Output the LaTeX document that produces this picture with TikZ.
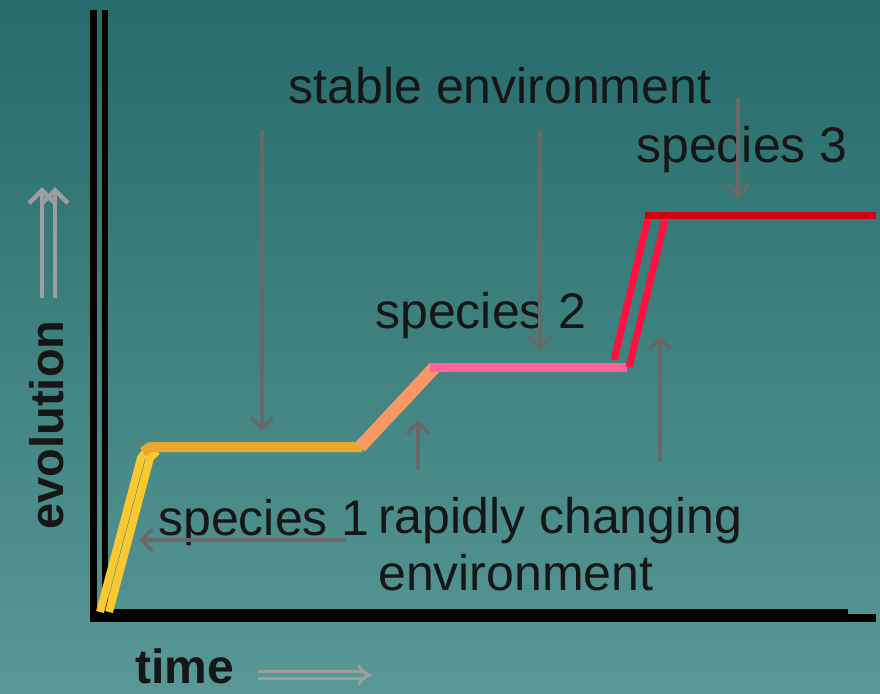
\documentclass[tikz,border=0pt]{standalone}
\usepackage{fontspec}
\setmainfont{Liberation Sans}
\usetikzlibrary{arrows.meta}
\definecolor{bgtop}{RGB}{38,108,106}
\definecolor{bgbot}{RGB}{88,152,150}
\definecolor{notegray}{RGB}{104,104,104}
\definecolor{axisgray}{RGB}{158,158,158}
\definecolor{inkdark}{RGB}{22,22,22}
\definecolor{sponeup}{RGB}{252,200,48}
\definecolor{sponeflat}{RGB}{232,168,48}
\definecolor{orangeup}{RGB}{250,152,100}
\definecolor{pinkflat}{RGB}{255,100,150}
\definecolor{redup}{RGB}{255,16,64}
\definecolor{redflat}{RGB}{208,0,16}
\begin{document}
\begin{tikzpicture}[x=1pt,y=1pt,yscale=-1,
    txt/.style={inner sep=0pt,text=inkdark,font=\fontsize{50}{56}\selectfont},
    note/.style={draw=notegray,line width=3.5pt,-{Straight Barb[length=11pt,width=22pt,line width=3.5pt]}},
    bigarrow/.style={draw=axisgray,line width=4.5pt,-{Straight Barb[length=13pt,width=26pt,line width=4.5pt]}},
    curve/.style={line width=#1,line cap=butt,line join=round}]
    % background
    \shade[top color=bgtop,bottom color=bgbot] (0,0) rectangle (880,693);
    
    % axes
    \draw[black,line width=7pt] (93,10) -- (93,621);
    \draw[black,line width=6pt] (105,10) -- (105,612);
    \draw[black,line width=13pt] (90,615) -- (848,615);
    \draw[black,line width=8pt] (840,618) -- (876,618);
    
    % species 1
    \draw[sponeup,curve=8pt] (100,612) -- (141,458) -- (148,449);
    \draw[sponeup,curve=8pt] (109,612) -- (150,458) -- (157,451);
    \draw[sponeflat,curve=10pt] (143,452) -- (150,447) -- (362,447);
    % species 2
    \draw[orangeup,curve=13pt] (360,447) -- (435,367);
    \draw[pinkflat,curve=9pt] (430,367) -- (627,367);
    % species 3
    \draw[redup,curve=7pt] (614,360) -- (648,218);
    \draw[redup,curve=7pt] (629,367) -- (665,220);
    \draw[redflat,curve=7pt] (645,215) -- (876,215);
    
    % Text Node
    \node[txt,anchor=base] (stable) at (500,103) {stable environment};
    % Text Node
    \node[txt,anchor=base] (sp3) at (742,162) {species 3};
    % Text Node
    \node[txt,anchor=base] (sp2) at (481,328) {species 2};
    % Text Node
    \node[txt,anchor=base] (sp1) at (264,535) {species 1};
    % Text Node
    \node[txt,anchor=base west] (rapid) at (378,533) {rapidly changing};
    % Text Node
    \node[txt,anchor=base west] (rapidenv) at (378,590) {environment};
    % Text Node
    \node[txt,anchor=base,font=\bfseries\fontsize{48}{54}\selectfont] (time) at (185,683) {time};
    % Text Node
    \node[txt,rotate=90,font=\bfseries\fontsize{47}{54}\selectfont] (evol) at (47,425) {evolution};
    
    % pointers
    \coordinate (stableA) at (262,130);
    \coordinate (flatone) at (262,431);
    \coordinate (stableB) at (540,130);
    \coordinate (flattwo) at (540,350);
    \coordinate (spthree) at (738,198);
    \coordinate (rapidA) at (418,470);
    \coordinate (rampone) at (418,420);
    \coordinate (rapidB) at (660,462);
    \coordinate (ramptwo) at (660,336);
    \coordinate (sponeA) at (346,540);
    \coordinate (sponeB) at (139,540);
    \draw[note] (stableA) -- (flatone);
    \draw[note] (stableB) -- (flattwo);
    \draw[note] (sp3.north -| spthree) ++(0,-28) -- (spthree);
    \draw[note] (rapidA) -- (rampone);
    \draw[note] (rapidB) -- (ramptwo);
    \draw[note] (sponeA) -- (sponeB);
    
    % axis arrows
    \coordinate (evolA) at (42,298);
    \coordinate (evolB) at (42,187);
    \coordinate (evolC) at (55,298);
    \coordinate (evolD) at (55,187);
    \draw[bigarrow] (evolA) -- (evolB);
    \draw[bigarrow] (evolC) -- (evolD);
    \coordinate (timeA) at (258,675);
    \coordinate (timeB) at (372,675);
    \draw[draw=axisgray,line width=3pt,double=bgbot,double distance=4pt,-{Implies[length=13pt]}] (timeA) -- (timeB);
\end{tikzpicture}
\end{document}
